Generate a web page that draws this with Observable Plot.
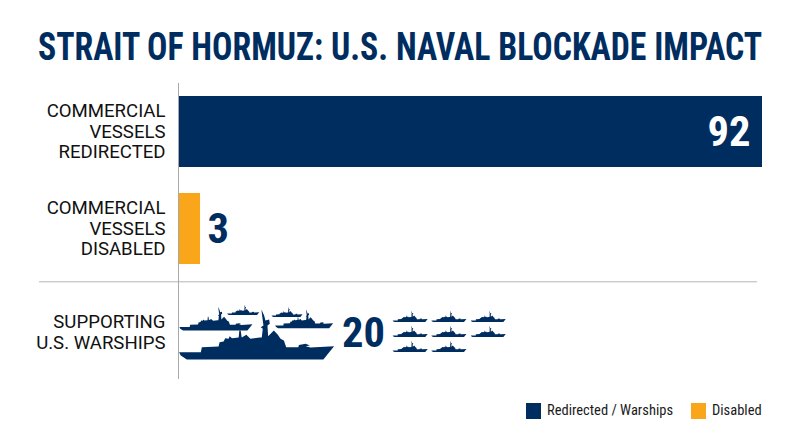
<!DOCTYPE html>
<html><head><meta charset="utf-8">
<script src="https://cdn.jsdelivr.net/npm/d3@7"></script>
<script src="https://cdn.jsdelivr.net/npm/@observablehq/plot@0.6"></script>
<style>
html,body{margin:0;padding:0;background:#fff;width:800px;height:447px;overflow:hidden}
body{font-family:Roboto,sans-serif}
#title{height:83px;box-sizing:border-box;padding-top:27px;text-align:center;font-family:"Roboto Condensed",Roboto,sans-serif;font-stretch:condensed;font-weight:700;font-size:38px;line-height:40px;color:#002D5F;white-space:nowrap;transform:translateX(-6.5px) scaleX(.889);transform-origin:400px 0}
#chart svg{display:block}
#legend{position:absolute;left:0;top:400px;width:800px;height:20px;font-family:"Roboto Condensed",Roboto,sans-serif;font-stretch:condensed;font-size:14.5px;color:#1a1a1a}
#legend i{position:absolute;top:3px;width:15px;height:16px}
#legend span{position:absolute;top:2px;line-height:18px;white-space:nowrap}
</style></head><body>
<div id="title">STRAIT OF HORMUZ: U.S. NAVAL BLOCKADE IMPACT</div>
<div id="chart"></div>
<div id="legend">
<i style="left:526px;background:#002D5F"></i><span style="left:547px">Redirected / Warships</span>
<i style="left:691px;background:#FAA61A"></i><span style="left:712px">Disabled</span>
</div>
<script>
const categories = ["COMMERCIAL\nVESSELS\nREDIRECTED", "COMMERCIAL\nVESSELS\nDISABLED", "SUPPORTING\nU.S. WARSHIPS"];
const values = [92, 3, 20];
const navy = "#002D5F", amber = "#FAA61A";

// Ship silhouette (glyph outline, normalised inside the symbol)
const hull = [[27,170],[92,170],[95,155],[145,153],[148,140],[160,138],[165,128],[175,130],[178,122],[185,128],[205,126],[207,105],[211,105],[214,126],[228,118],[240,130],[268,126],[274,126],[277,100],[271,95],[279,90],[275,60],[273,42],[281,60],[285,75],[296,72],[298,85],[291,90],[293,122],[310,105],[322,118],[330,130],[340,135],[347,155],[383,155],[385,148],[405,145],[418,150],[405,152],[420,156],[490,152],[458,192],[50,192],[32,180]];
const shipSymbol = {draw(ctx, size){
  const r = Math.sqrt(size / Math.PI);
  hull.forEach(([a,b],i)=>{
    const X=(a-258.5)/231.5*r, Y=(b-118.5)/231.5*r;
    i?ctx.lineTo(X,Y):ctx.moveTo(X,Y);
  });
  ctx.closePath();
}};
// Fleet icons, x in the chart's value units
const shipX  = [12.3, 5.9, 19.8, 10.2, 17.1, 36.5, 42.6, 48.8, 36.5, 42.6, 48.8, 36.5, 42.6];
const shipDy = [9, -7, -7, -16, -14, -9.5, -9.5, -9.5, 5.5, 5.5, 5.5, 20.5, 20.5];
const shipR  = [77.5, 36.5, 29, 16, 15.5, 17.5, 17.5, 17.5, 17.5, 17.5, 17.5, 17.5, 17.5];

const bars = categories.map((c,i)=>({c, v:values[i]}));
const row3 = categories[2];
const condensed = '"Roboto Condensed",Roboto,sans-serif';

const chart = Plot.plot({
  width: 800, height: 296,
  marginLeft: 39, marginRight: 43, marginTop: 0, marginBottom: 0,
  x: {domain:[0,92], range:[178,762], axis:null},
  y: {domain:categories, range:[12.5,278.2], paddingInner:.267, paddingOuter:0, axis:null},
  style: {fontFamily:"Roboto,sans-serif", background:"#fff"},
  marks: [
    Plot.barX([bars[0]], {x:"v", y:"c", fill:navy}),
    Plot.barX([bars[1]], {x:"v", y:"c", fill:amber, insetRight:-3}),
    Plot.ruleY([row3], {y:d=>d, stroke:"#b5b5b5", strokeWidth:1, dy:-44.2}),
    Plot.ruleX([0], {stroke:"#a8a8a8", strokeWidth:1}),
    Plot.text(categories.slice(0,2), {x:()=>0, y:d=>d, text:d=>d, textAnchor:"end", dx:-13, dy:-1, fontSize:18.6, lineHeight:1.09, fill:"#111"}),
    Plot.text([row3], {x:()=>0, y:d=>d, text:d=>d, textAnchor:"end", dx:-13, dy:6, fontSize:18.6, lineHeight:1.09, fill:"#111"}),
    Plot.text([bars[0]], {x:"v", y:"c", text:d=>String(d.v), textAnchor:"end", dx:-12, fontSize:42.5, fontFamily:condensed, fontWeight:700, fill:"#fff"}),
    Plot.text([bars[1]], {x:"v", y:"c", text:d=>String(d.v), textAnchor:"start", dx:10, fontSize:42.5, fontFamily:condensed, fontWeight:700, fill:navy}),
    Plot.text([bars[2]], {x:"v", y:"c", text:d=>String(d.v), textAnchor:"start", dx:36.5, dy:7, fontSize:42.5, fontFamily:condensed, fontWeight:700, fill:navy}),
    ...shipX.map((x,i)=>Plot.dot([x], {x:d=>d, y:()=>row3, r:shipR[i], dy:shipDy[i], symbol:shipSymbol, fill:navy, stroke:"none"}))
  ]
});
document.getElementById("chart").append(chart);
</script>
</body></html>
